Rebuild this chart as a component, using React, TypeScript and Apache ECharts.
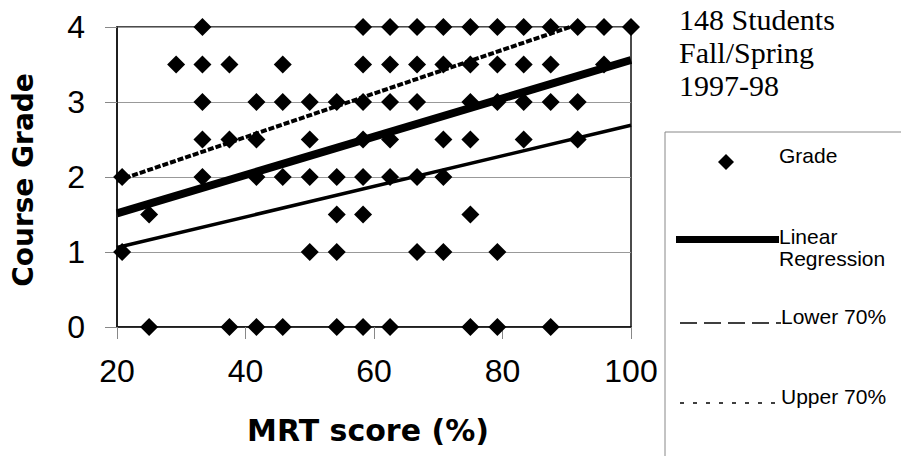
import React, { useEffect, useRef } from "react";
import * as echarts from "echarts";

// MRT score (%) values by course grade
const grade4 = [33.3, 58.3, 62.5, 66.7, 70.8, 75, 79.2, 83.3, 87.5, 91.7, 95.8, 100];
const grade35 = [29.2, 33.3, 37.5, 45.8, 58.3, 62.5, 66.7, 70.8, 75, 79.2, 83.3, 87.5, 95.8];
const grade3 = [33.3, 41.7, 45.8, 50, 54.2, 58.3, 62.5, 66.7, 75, 79.2, 83.3, 87.5, 91.7];
const grade25 = [33.3, 37.5, 41.7, 50, 58.3, 62.5, 70.8, 75, 83.3, 91.7];
const grade2 = [20.8, 33.3, 41.7, 45.8, 50, 54.2, 58.3, 62.5, 66.7, 70.8];
const grade15 = [25, 54.2, 58.3, 75];
const grade1 = [20.8, 50, 54.2, 66.7, 70.8, 79.2];
const grade0 = [25, 37.5, 41.7, 45.8, 54.2, 58.3, 62.5, 75, 79.2, 87.5];

const gradeRows: [number, number[]][] = [
  [4, grade4],
  [3.5, grade35],
  [3, grade3],
  [2.5, grade25],
  [2, grade2],
  [1.5, grade15],
  [1, grade1],
  [0, grade0],
];

const regressionLine = [
  [20, 1.515],
  [100, 3.56],
];
const lower70Line = [
  [20, 1.06],
  [100, 2.69],
];
const upper70Line = [
  [20, 1.95],
  [90.5, 4.0],
];

const xTicks = { min: 20, max: 100, interval: 20 };
const yTicks = { min: 0, max: 4, interval: 1 };

const noteLines = ["148 Students", "Fall/Spring", "1997-98"];

export default function App() {
  const ref = useRef<HTMLDivElement>(null);

  useEffect(() => {
    document.body.style.margin = "0";
    if (!ref.current) return;
    const chart = echarts.init(ref.current, undefined, { renderer: "svg" });

    const scatterData: number[][] = [];
    gradeRows.forEach(([g, xs]) => xs.forEach((x) => scatterData.push([x, g])));

    const sans = "Liberation Sans, Arial, sans-serif";
    const legendText = (text: string, x: number, y: number) => ({
      type: "text",
      x,
      y,
      style: {
        text,
        fill: "#000",
        font: `21px ${sans}`,
        align: "left",
        verticalAlign: "middle",
      },
    });

    chart.setOption({
      animation: false,
      backgroundColor: "#fff",
      grid: {
        left: 117,
        right: 270,
        top: 27,
        bottom: 129,
        show: true,
        borderColor: "#111",
        borderWidth: 1.5,
        backgroundColor: "transparent",
      },
      xAxis: {
        type: "value",
        min: xTicks.min,
        max: xTicks.max,
        interval: xTicks.interval,
        axisLine: { show: true, lineStyle: { color: "#111", width: 1.5 } },
        axisTick: { show: true, length: 12, lineStyle: { color: "#888", width: 1 } },
        axisLabel: { color: "#000", fontSize: 32, fontFamily: sans, margin: 28 },
        splitLine: { show: false },
      },
      yAxis: {
        type: "value",
        min: yTicks.min,
        max: yTicks.max,
        interval: yTicks.interval,
        axisLine: { show: true, lineStyle: { color: "#111", width: 1.5 } },
        axisTick: { show: true, length: 12, lineStyle: { color: "#888", width: 1 } },
        axisLabel: { color: "#000", fontSize: 32, fontFamily: sans, margin: 32 },
        splitLine: { show: true, lineStyle: { color: "#999", width: 1 } },
      },
      series: [
        {
          name: "Grade",
          type: "scatter",
          data: scatterData,
          symbol: "diamond",
          symbolSize: 18,
          itemStyle: { color: "#000", opacity: 1 },
          clip: false,
          z: 2,
        },
        {
          name: "Lower 70%",
          type: "line",
          data: lower70Line,
          showSymbol: false,
          symbol: "none",
          lineStyle: { color: "#000", width: 3.5, type: "solid", opacity: 1 },
          z: 3,
        },
        {
          name: "Upper 70%",
          type: "line",
          data: upper70Line,
          showSymbol: false,
          symbol: "none",
          lineStyle: { color: "#000", width: 4, type: [6, 2], opacity: 1 },
          z: 3,
        },
        {
          name: "Linear Regression",
          type: "line",
          data: regressionLine,
          showSymbol: false,
          symbol: "none",
          lineStyle: { color: "#000", width: 8, type: "solid", opacity: 1 },
          z: 4,
        },
      ],
      graphic: [
        {
          type: "text",
          x: 23,
          y: 180,
          rotation: Math.PI / 2,
          style: {
            text: "Course Grade",
            fill: "#000",
            font: "bold 28px DejaVu Sans, sans-serif",
            align: "center",
            verticalAlign: "middle",
          },
        },
        {
          type: "text",
          x: 368,
          y: 430,
          style: {
            text: "MRT score (%)",
            fill: "#000",
            font: "bold 30px DejaVu Sans, sans-serif",
            align: "center",
            verticalAlign: "middle",
          },
        },
        ...noteLines.map((t, i) => ({
          type: "text",
          x: 679,
          y: 19.5 + i * 32.8,
          style: {
            text: t,
            fill: "#000",
            font: "30px Liberation Serif, Times New Roman, serif",
            align: "left",
            verticalAlign: "middle",
          },
        })),
        // legend box
        {
          type: "line",
          shape: { x1: 665, y1: 132, x2: 901, y2: 132 },
          style: { stroke: "#888", lineWidth: 1 },
        },
        {
          type: "line",
          shape: { x1: 665, y1: 132, x2: 665, y2: 456 },
          style: { stroke: "#888", lineWidth: 1 },
        },
        {
          type: "polygon",
          shape: {
            points: [
              [726, 154],
              [734, 162],
              [726, 170],
              [718, 162],
            ],
          },
          style: { fill: "#000" },
        },
        legendText("Grade", 779, 155.5),
        {
          type: "line",
          shape: { x1: 676, y1: 239.5, x2: 779, y2: 239.5 },
          style: { stroke: "#000", lineWidth: 7 },
        },
        legendText("Linear", 779, 236),
        legendText("Regression", 779, 258),
        {
          type: "line",
          shape: { x1: 680, y1: 323, x2: 781, y2: 323 },
          style: { stroke: "#000", lineWidth: 1.5, lineDash: [17, 7] },
        },
        legendText("Lower 70%", 781, 316),
        {
          type: "line",
          shape: { x1: 680, y1: 403, x2: 781, y2: 403 },
          style: { stroke: "#000", lineWidth: 1.5, lineDash: [4, 9] },
        },
        legendText("Upper 70%", 781, 396),
      ],
    });

    return () => chart.dispose();
  }, []);

  return <div ref={ref} style={{ width: 901, height: 456 }} />;
}
